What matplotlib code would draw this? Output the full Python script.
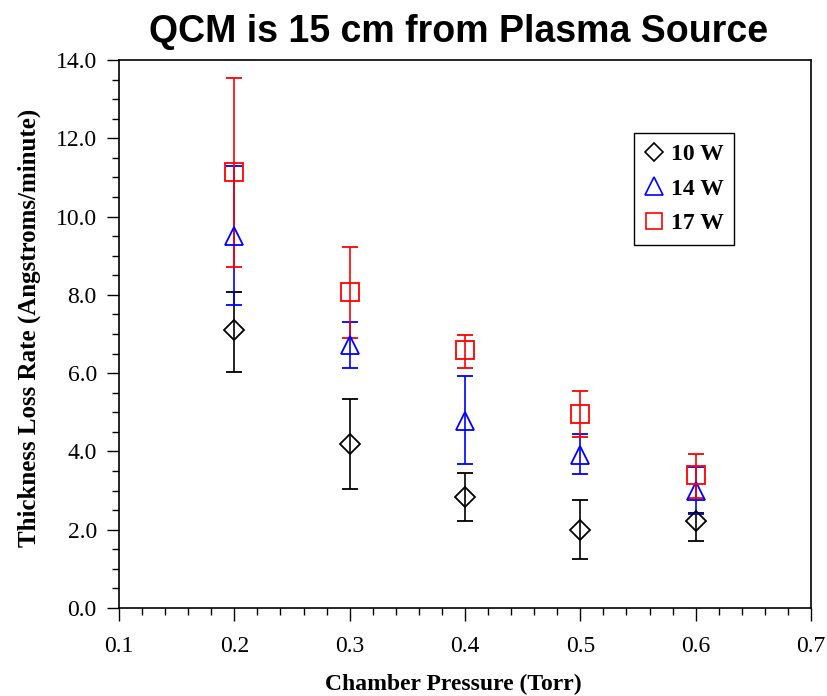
import matplotlib
matplotlib.use('Agg')
import matplotlib.pyplot as plt
from matplotlib.lines import Line2D
from matplotlib.ticker import MultipleLocator, FormatStrFormatter

pressure = [0.2, 0.3, 0.4, 0.5, 0.6]

rate_10w = [7.10, 4.19, 2.84, 1.99, 2.22]
hi_10w = [8.07, 5.34, 3.45, 2.76, 2.43]
lo_10w = [6.03, 3.04, 2.22, 1.25, 1.71]

rate_14w = [9.50, 6.71, 4.78, 3.92, 2.98]
hi_14w = [11.29, 7.30, 5.93, 4.44, 3.59]
lo_14w = [7.74, 6.14, 3.68, 3.42, 2.40]

rate_17w = [11.13, 8.08, 6.60, 4.96, 3.40]
hi_17w = [13.53, 9.22, 6.97, 5.55, 3.93]
lo_17w = [8.71, 6.91, 6.14, 4.36, 2.80]

serif = ['Liberation Serif', 'DejaVu Serif']

fig = plt.figure(figsize=(8.28, 6.96), dpi=100)
ax = fig.add_axes([0.1437, 0.1264, 0.8358, 0.7874])

series = [
    (rate_10w, lo_10w, hi_10w, 'black', 'D', 10.0),
    (rate_14w, lo_14w, hi_14w, 'blue', '^', 13.5),
    (rate_17w, lo_17w, hi_17w, 'red', 's', 12.5),
]
for vals, lo, hi, col, mk, ms in series:
    err = [[v - l for v, l in zip(vals, lo)], [h - v for v, h in zip(vals, hi)]]
    ax.errorbar(pressure, vals, yerr=err, fmt=mk, color=col, mfc='none',
                mec=col, ms=ms, mew=1.3, elinewidth=1.2, capsize=6, capthick=1.2)

ax.set_xlim(0.1, 0.7)
ax.set_ylim(0.0, 14.0)
ax.xaxis.set_major_locator(MultipleLocator(0.1))
ax.xaxis.set_minor_locator(MultipleLocator(0.02))
ax.yaxis.set_major_locator(MultipleLocator(2.0))
ax.yaxis.set_minor_locator(MultipleLocator(0.5))
ax.xaxis.set_major_formatter(FormatStrFormatter('%.1f'))
ax.yaxis.set_major_formatter(FormatStrFormatter('%.1f'))
ax.tick_params(which='both', direction='out', top=False, right=False)
ax.tick_params(which='major', length=9, width=1)
ax.tick_params(which='minor', length=5, width=1)
ax.tick_params(axis='x', which='major', pad=11)
ax.tick_params(axis='y', which='major', pad=7)
for lab in ax.get_xticklabels() + ax.get_yticklabels():
    lab.set_family(serif)
    lab.set_fontsize(17)
for sp in ax.spines.values():
    sp.set_linewidth(1.2)

fig.text(453 / 828, 1 - 684 / 696, 'Chamber Pressure (Torr)', family=serif,
         fontsize=17, fontweight='bold', ha='center', va='center')
fig.text(29 / 828, 1 - 328 / 696, 'Thickness Loss Rate (Angstroms/minute)', family=serif,
         fontsize=18, fontweight='bold', ha='center', va='center', rotation=90)
fig.text(459 / 828, 1 - 42 / 696, 'QCM is 15 cm from Plasma Source',
         family=['Liberation Sans', 'DejaVu Sans'], fontsize=27, fontweight='bold',
         ha='center', va='baseline')

handles = [
    Line2D([], [], ls='none', marker='D', color='black', mfc='none', ms=9.2, mew=1.2),
    Line2D([], [], ls='none', marker='^', color='blue', mfc='none', ms=13, mew=1.2),
    Line2D([], [], ls='none', marker='s', color='red', mfc='none', ms=11.5, mew=1.2),
]
leg = ax.legend(handles, ['10 W', '14 W', '17 W'], loc='upper left',
                bbox_to_anchor=((634 - 119) / 692, (608 - 133) / 548), fancybox=False,
                framealpha=1, edgecolor='black', handlelength=0.8, handletextpad=0.3,
                borderpad=0.45, borderaxespad=0, labelspacing=0.55,
                prop={'family': serif, 'size': 17, 'weight': 'bold'})
leg.get_frame().set_linewidth(1.0)

fig.savefig('out.png', dpi=100)
